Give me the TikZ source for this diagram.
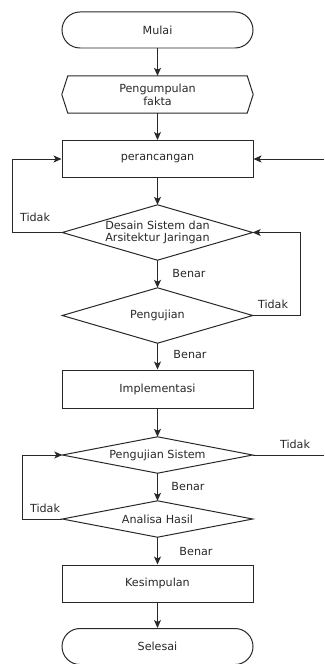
\documentclass[tikz,border=0pt]{standalone}
\usepackage{fontspec}
\setmainfont{DejaVu Sans}
\usetikzlibrary{arrows.meta}
\definecolor{ink}{RGB}{40,40,40}
\tikzset{
  every node/.style={font=\fontsize{11.2}{12.8}\selectfont, text=ink, align=center},
  line/.style={draw=ink, line width=1pt},
  arr/.style={line, -{Stealth[length=8pt,width=7pt,inset=2pt]}},
  term/.style={line, rectangle, rounded corners=18bp, minimum width=191bp, minimum height=36bp, inner sep=0pt},
  procbox/.style={line, rectangle, minimum width=191bp, minimum height=37bp, inner sep=0pt},
  frame/.style={rectangle, minimum width=190bp, inner sep=0pt},
  lbl/.style={inner sep=0pt}
}
\begin{document}
\begin{tikzpicture}[x=1bp,y=-1bp]
\useasboundingbox[fill=white] (0,0) rectangle (324,664);
% nodes
\node[term] (mulai) at (157.5,30) {Mulai};
\node[frame, minimum width=191bp, minimum height=37bp] (fakta) at (157.5,94.5) {Pengumpulan\\fakta};
\draw[line] (fakta.west) -- ([xshift=6bp]fakta.north west) -- ([xshift=-6bp]fakta.north east) -- (fakta.east) -- ([xshift=-6bp]fakta.south east) -- ([xshift=6bp]fakta.south west) -- cycle;
\node[procbox] (ranc) at (157.5,159) {perancangan};
\node[frame, minimum height=55bp] (desain) at (157.5,232.5) {Desain Sistem dan\\Arsitektur Jaringan};
\draw[line] (desain.north) -- (desain.east) -- (desain.south) -- (desain.west) -- cycle;
\node[frame, minimum height=55bp] (uji) at (157.5,315.5) {Pengujian};
\draw[line] (uji.north) -- (uji.east) -- (uji.south) -- (uji.west) -- cycle;
\node[procbox, minimum height=38bp] (impl) at (157.5,389) {Implementasi};
\node[frame, minimum height=36bp] (ujisis) at (157.5,455) {Pengujian Sistem};
\draw[line] (ujisis.north) -- (ujisis.east) -- (ujisis.south) -- (ujisis.west) -- cycle;
\node[frame, minimum height=36bp] (analisa) at (157.5,519) {Analisa Hasil};
\draw[line] (analisa.north) -- (analisa.east) -- (analisa.south) -- (analisa.west) -- cycle;
\node[procbox] (kesim) at (157.5,583.5) {Kesimpulan};
\node[term] (selesai) at (157.5,646.5) {Selesai};
% free ends
\coordinate (rin) at (324,159);
\coordinate (rout) at (324,455);
% main flow
\draw[arr] (mulai) -- (fakta);
\draw[arr] (fakta) -- (ranc);
\draw[arr] (ranc) -- (desain.north);
\draw[arr] (desain.south) -- (uji.north);
\draw[arr] (uji.south) -- (impl);
\draw[arr] (impl) -- (ujisis.north);
\draw[arr] (ujisis.south) -- (analisa.north);
\draw[arr] (analisa.south) -- (kesim);
\draw[arr] (kesim) -- (selesai);
% loops
\draw[arr] (desain.west) -| (12,159) -- (ranc.west);
\draw[arr] (rin) -- (ranc.east);
\draw[arr] (uji.east) -| (300,232.5) -- (desain.east);
\draw[line] (ujisis.east) -- (rout);
\draw[arr] (analisa.west) -| (22,455) -- (ujisis.west);
% labels
\node[lbl] (t1) at (35,217) {Tidak};
\node[lbl] (t2) at (273,304) {Tidak};
\node[lbl] (t3) at (295,444) {Tidak};
\node[lbl] (t4) at (45,508) {Tidak};
\node[lbl] (b1) at (189,274) {Benar};
\node[lbl] (b2) at (190,355) {Benar};
\node[lbl] (b3) at (188,487) {Benar};
\node[lbl] (b4) at (196,552) {Benar};
\end{tikzpicture}
\end{document}
